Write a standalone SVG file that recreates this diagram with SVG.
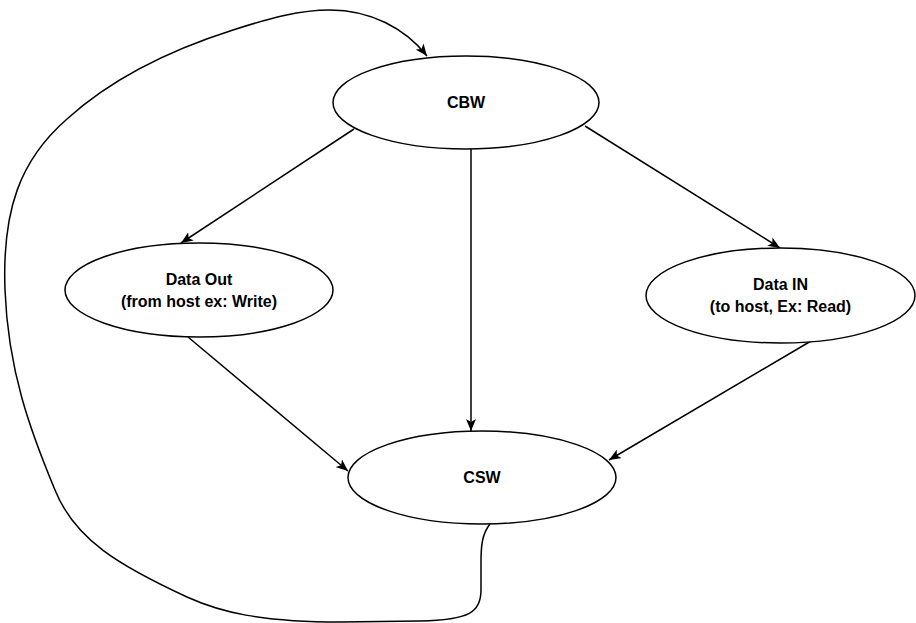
<svg xmlns="http://www.w3.org/2000/svg" width="916" height="623" viewBox="0 0 916 623">
  <style>
    .node ellipse { fill: #ffffff; stroke: #000000; stroke-width: 1.5; }
    .node text { font-family: "Liberation Sans", Arial, sans-serif; font-weight: bold; font-size: 16px; fill: #000000; text-anchor: middle; }
    .edge { fill: none; stroke: #000000; stroke-width: 1.5; marker-end: url(#arrow); }
  </style>
  <defs>
    <marker id="arrow" viewBox="0 0 12 10" refX="12" refY="5" markerWidth="12" markerHeight="10" markerUnits="userSpaceOnUse" orient="auto">
      <path d="M0,0 L12,5 L0,10 L3,5 Z" fill="#000000"/>
    </marker>
  </defs>
  <rect width="916" height="623" fill="#ffffff"/>
  <g id="connectors">
    <path class="edge" d="M354,129 L181,243"/>
    <path class="edge" d="M471,149 L471,431"/>
    <path class="edge" d="M585,126 L780,248"/>
    <path class="edge" d="M188,337 L348,471"/>
    <path class="edge" d="M811,341 L609,460"/>
    <path class="edge" d="M490,524 C482,534 481,546 481,562 L481,590 C481,612 470,620 420,621 L340,622 C260,622 220,612 187,597 C120,566 75,540 55,490 C30,430 8,370 5,290 C2,210 20,160 67,119 C110,80 170,50 233,30 C270,18 300,10 330,10 C370,10 405,28 427,56"/>
  </g>
  <g id="node-cbw" class="node">
    <ellipse cx="466" cy="102.5" rx="133" ry="46.5"/>
    <text x="466" y="108">CBW</text>
  </g>
  <g id="node-data-out" class="node">
    <ellipse cx="199" cy="290" rx="134" ry="47"/>
    <text x="199" y="285">Data Out</text>
    <text x="199" y="307">(from host ex: Write)</text>
  </g>
  <g id="node-data-in" class="node">
    <ellipse cx="780.5" cy="295.5" rx="134.5" ry="47.5"/>
    <text x="780.5" y="290">Data IN</text>
    <text x="780.5" y="312">(to host, Ex: Read)</text>
  </g>
  <g id="node-csw" class="node">
    <ellipse cx="482" cy="477.5" rx="134" ry="46.5"/>
    <text x="482" y="483">CSW</text>
  </g>
</svg>
